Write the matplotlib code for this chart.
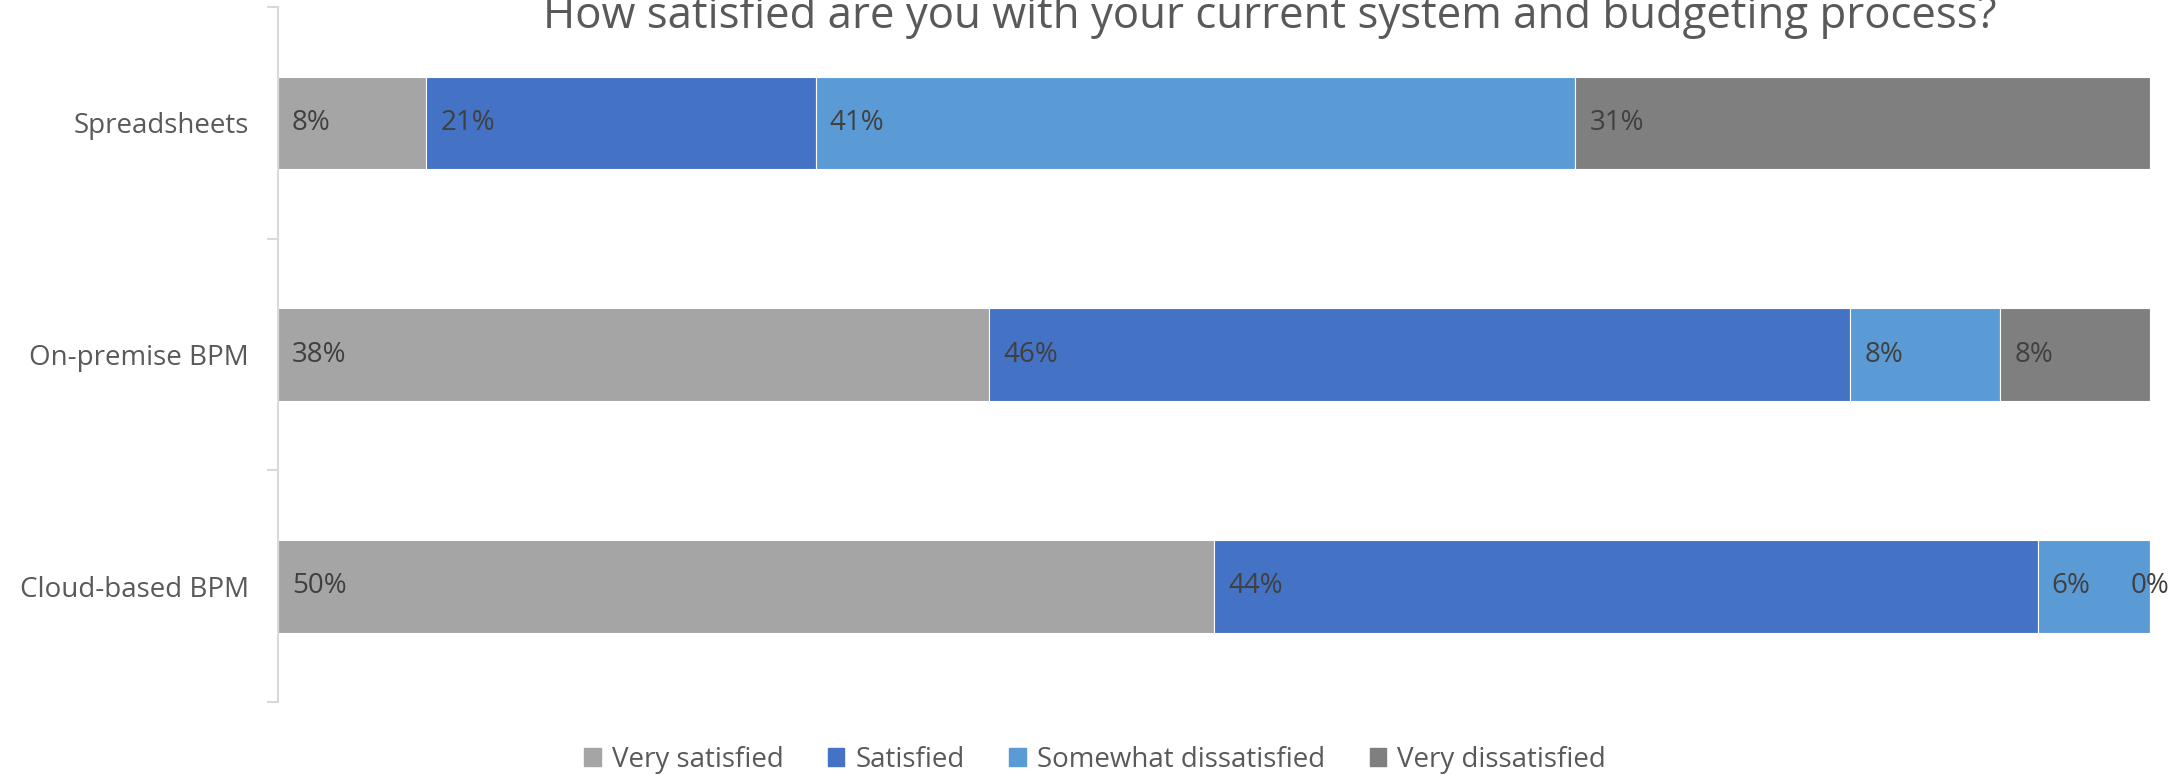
import matplotlib.pyplot as plt
from matplotlib.patches import Patch
import numpy as np

categories = ['Spreadsheets', 'On-premise BPM', 'Cloud-based BPM']
series = ['Very satisfied', 'Satisfied', 'Somewhat dissatisfied', 'Very dissatisfied']
very_satisfied = [8, 38, 50]
satisfied = [21, 46, 44]
somewhat_dissatisfied = [41, 8, 6]
very_dissatisfied = [31, 8, 0]
colors = ['#A5A5A5', '#4472C4', '#5B9BD5', '#7F7F7F']

plt.rcParams['font.family'] = ['Open Sans', 'DejaVu Sans']

fig = plt.figure(figsize=(21.81, 7.75), dpi=100)
ax = fig.add_axes([278 / 2181, 1 - 702 / 775, (2150 - 278) / 2181, (702 - 7) / 775])

data = np.array([very_satisfied, satisfied, somewhat_dissatisfied, very_dissatisfied], dtype=float)
shares = data / data.sum(axis=0)  # 100% stacked
y = np.arange(len(categories))
left = np.zeros(len(categories))
for i, name in enumerate(series):
    ax.barh(y, shares[i], left=left, height=0.4, color=colors[i],
            edgecolor='white', linewidth=0.8, label=name)
    for j in range(len(categories)):
        txt = f'{int(data[i, j])}%'
        if data[i, j] == 0:
            ax.text(left[j], y[j], txt, ha='center', va='center',
                    fontsize=20, color='#404040', clip_on=False)
        else:
            ax.annotate(txt, (left[j], y[j]), xytext=(10, 0), textcoords='offset points',
                        ha='left', va='center', fontsize=20, color='#404040')
    left += shares[i]

ax.set_xlim(0, 1)
ax.set_ylim(2.5, -0.5)
ax.set_yticks(y)
ax.set_yticklabels(categories, fontsize=20, color='#595959')
ax.tick_params(axis='y', which='major', length=0, pad=21)
ax.set_yticks([-0.5, 0.5, 1.5, 2.5], minor=True)
ax.tick_params(axis='y', which='minor', length=8, color='#D9D9D9', width=1.5)
ax.set_xticks([])
for s in ['top', 'right', 'bottom']:
    ax.spines[s].set_visible(False)
ax.spines['left'].set_color('#D9D9D9')
ax.spines['left'].set_linewidth(1.5)

fig.text(1270 / 2181, 1 - 28 / 775, 'How satisfied are you with your current system and budgeting process?',
         ha='center', va='baseline', fontsize=31.5, color='#595959')

handles = [Patch(color=c) for c in colors]
fig.legend(handles, series, loc='center', bbox_to_anchor=(1095 / 2181, 1 - 760 / 775),
           ncol=4, frameon=False, fontsize=20, labelcolor='#595959',
           handlelength=0.6, handleheight=0.6, handletextpad=0.4, columnspacing=1.6)

fig.savefig('out.png', dpi=100)
